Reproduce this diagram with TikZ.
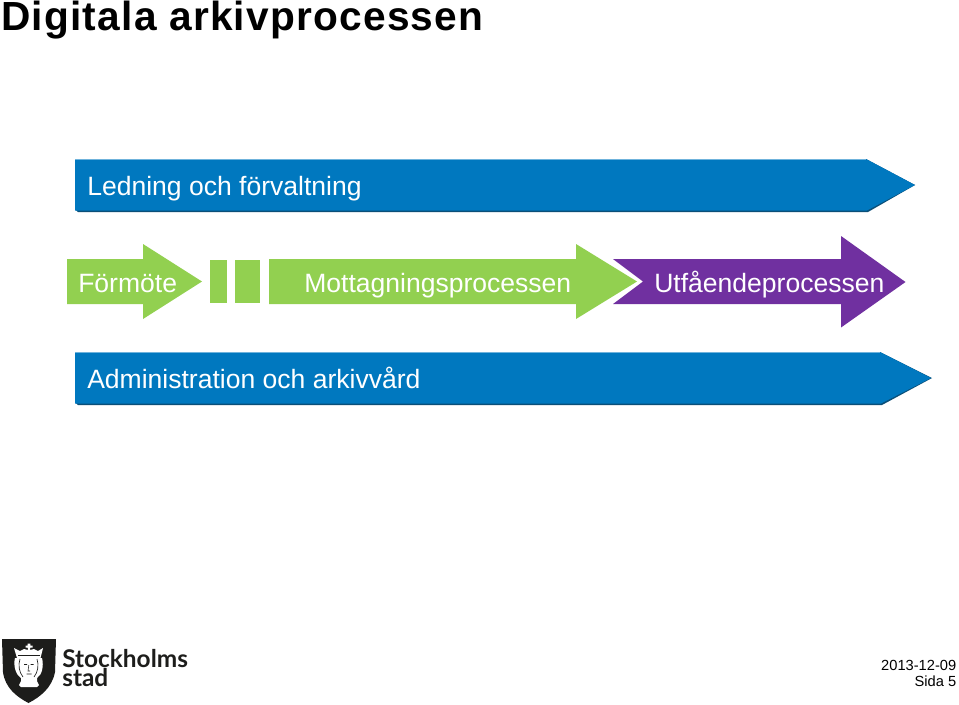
\documentclass[tikz,border=0pt]{standalone}
\usepackage{fontspec}
\setmainfont{Liberation Sans}
\newfontfamily\logofont[FakeStretch=1.0]{Lato}
\newfontfamily\titlefont[LetterSpace=3]{Liberation Sans}
\definecolor{barblue}{HTML}{0078BF}
\definecolor{bardark}{HTML}{0B4F78}
\definecolor{barlight}{HTML}{6FB3DC}
\definecolor{leaf}{HTML}{92D050}
\definecolor{plum}{HTML}{7030A0}
\definecolor{inkdark}{HTML}{1D1D1B}
\tikzset{
  px/.style={x=0.75pt,y=-0.75pt},
  title/.style={anchor=base west,inner sep=0pt,font=\titlefont\fontsize{30.5}{31}\selectfont\bfseries,text=black},
  barlabel/.style={anchor=base west,inner sep=0pt,font=\fontsize{19.9}{24}\selectfont,text=white},
  footlabel/.style={anchor=base east,inner sep=0pt,font=\fontsize{11}{12}\selectfont,text=black},
  logolabel/.style={anchor=base west,inner sep=0pt,font=\logofont\bfseries\fontsize{18.3}{19}\selectfont,text=inkdark},
}
\begin{document}
\begin{tikzpicture}[px]
\useasboundingbox (0,0) rectangle (959,704);
\fill[white] (0,0) rectangle (959,704);
\node[title] (t) at (1,30.5) {Digitala arkivprocessen};
% blue bars
\fill[bardark] (77,159) -- (866,159) -- (915,185) -- (868,212) -- (78,212) -- (75,209) -- cycle;
\fill[barblue] (75,159) -- (866,159) -- (915,185) -- (867,210.5) -- (75,210.5) -- cycle;
\draw[barlight,line width=0.6pt] (75,159.3) -- (866,159.3);
\fill[bardark] (77,352) -- (880,352) -- (932,378) -- (882,405) -- (78,405) -- (75,402) -- cycle;
\fill[barblue] (75,352) -- (880,352) -- (931,378) -- (881,403.5) -- (75,403.5) -- cycle;
\draw[barlight,line width=0.6pt] (75,352.3) -- (880,352.3);
\node[barlabel] (a) at (87,195) {Ledning och förvaltning};
\node[barlabel] (b) at (87,388) {Administration och arkivvård};
% green
\fill[leaf] (67,259) -- (143,259) -- (143,244) -- (202,281.5) -- (143,319) -- (143,304) -- (67,304) -- cycle;
\fill[leaf] (210,260) rectangle (227,303);
\fill[leaf] (235,260) rectangle (260,303);
\fill[leaf] (269,259) -- (576,259) -- (576,244) -- (637,281.5) -- (576,319) -- (576,304) -- (269,304) -- cycle;
% purple
\draw[white,line width=2.2pt] (613,259) -- (643,281.5) -- (613,304);
\fill[plum] (613,259) -- (841,259) -- (841,236) -- (905.5,282) -- (841,327.5) -- (841,304) -- (613,304) -- (643,281.5) -- cycle;
\node[barlabel] (c) at (78,292) {Förmöte};
\node[barlabel] (d) at (304,292) {Mottagningsprocessen};
\node[barlabel] (e) at (654,292) {Utfåendeprocessen};
% logo shield
\fill[inkdark] (2,639) -- (56,639) -- (55,672) .. controls (52,688) and (40,697) .. (28.5,703) .. controls (17,697) and (5,688) .. (3,672) -- cycle;
% neck, face, hair
\fill[white] (21,672) -- (37,672) -- (37,681) -- (39,685) -- (37,687) -- (21,687) -- (19,685) -- (21,681) -- cycle;
\fill[white] (15,658) .. controls (13,666) and (16,675) .. (21,678) -- (37,678) .. controls (42,675) and (44,666) .. (42,658) -- cycle;
\draw[inkdark,line width=0.5pt] (20,659) .. controls (18,665) and (19,672) .. (23,677);
\draw[inkdark,line width=0.5pt] (37,659) .. controls (39,665) and (38,672) .. (34,677);
\draw[inkdark,line width=0.4pt] (24,664.5) -- (27,664.5) (30.5,664.5) -- (33.5,664.5) (28.8,665) -- (28,671) -- (30,671) (26.5,674) -- (31.5,674);
% crown
\fill[white] (14,648) -- (20,651) -- (24,649) -- (28,650) -- (27.7,647.5) -- (25.5,647.5) -- (25.5,645.5) -- (27.7,645.5) -- (27.7,643.5) -- (30.3,643.5) -- (30.3,645.5) -- (32.5,645.5) -- (32.5,647.5) -- (30.3,647.5) -- (30,650) -- (34,649) -- (38,651) -- (43,648) -- (40.5,658) -- (17,658) -- cycle;
\draw[inkdark,line width=0.5pt] (18,655.5) -- (40,655.5);
% logo text
\node[logolabel] (l1) at (62,667) {Stockholms};
\node[logolabel] (l2) at (62,686) {stad};
\node[footlabel] (f1) at (956.5,670) {2013-12-09};
\node[footlabel] (f2) at (956.5,686) {Sida 5};
\end{tikzpicture}
\end{document}
